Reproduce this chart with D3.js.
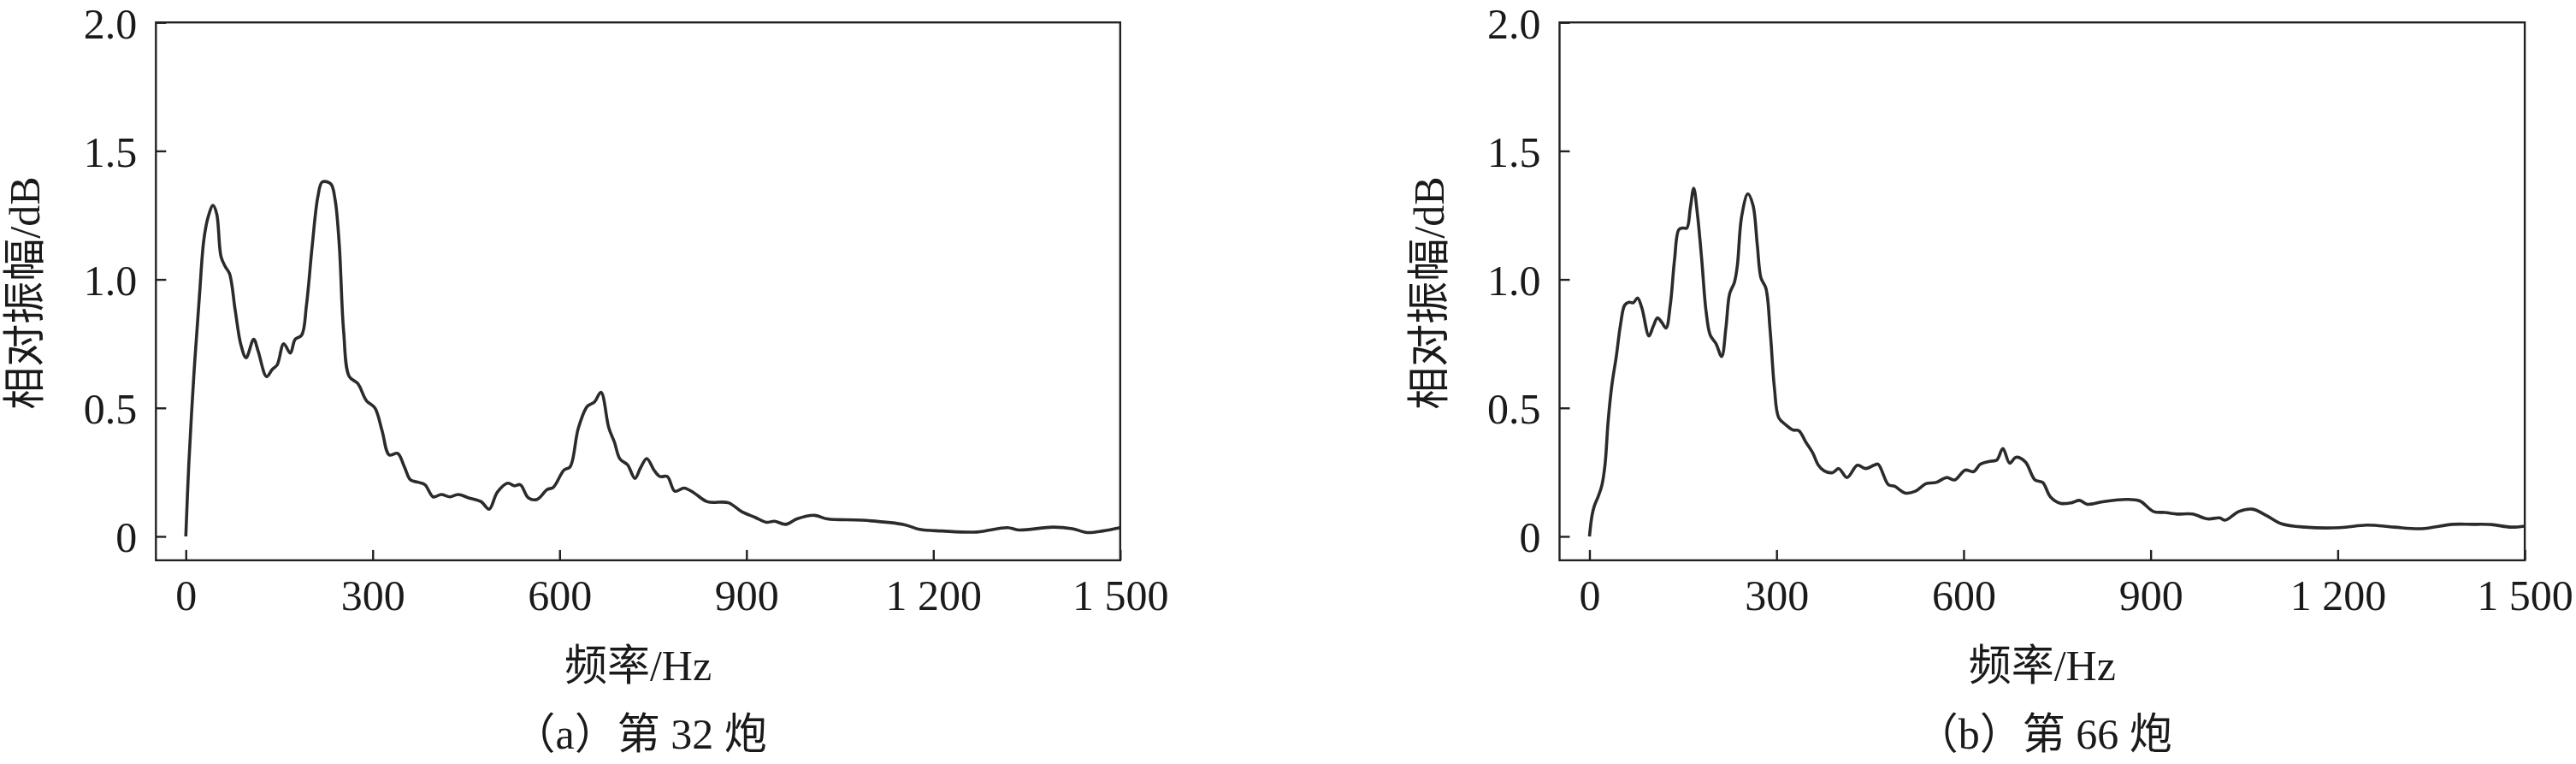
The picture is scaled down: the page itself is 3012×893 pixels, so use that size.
<!DOCTYPE html>
<html lang="zh">
<head>
<meta charset="UTF-8">
<title>相对振幅频谱</title>
<script src="https://cdnjs.cloudflare.com/ajax/libs/d3/7.9.0/d3.min.js"></script>
<style>
    body { margin: 0; background: #fff; }
    svg { display: block; }
    text { font-family: "Liberation Serif", "Noto Sans CJK SC", serif; fill: #1a1a1a; }
</style>
</head>
<body>
<svg id="chart" width="3012" height="893"></svg>
<script>
// tick values / labels
const xTicks = [0, 300, 600, 900, 1200, 1500];
const xTickLabels = ["0", "300", "600", "900", "1 200", "1 500"];
const yTicks = [0, 0.5, 1.0, 1.5, 2.0];
const yTickLabels = ["0", "0.5", "1.0", "1.5", "2.0"];

const xLabel = "频率/Hz";
const yLabel = "相对振幅/dB";
const captions = ["（a）第 32 炮", "（b）第 66 炮"];

// (a) shot 32 - frequency (Hz) and relative amplitude (dB)
const freqA = [0, 4.8, 13, 22, 29, 36, 43.7, 49.6, 56.5, 63.3, 70.2, 79.4, 88.5, 96.7, 109, 116,
    129.7, 138.8, 146.6, 157.2, 167.7, 175.5, 186, 193.7, 203, 212, 219, 232.7, 239.6, 246.4, 253.3,
    262.4, 276, 290, 303.5, 315, 326.5, 340, 351, 360.6, 374, 384, 397, 410, 424, 437, 454, 474, 487,
    500, 517, 527, 537, 550, 564, 580, 590, 607, 617, 630, 644.5, 656, 666.5, 679, 688, 697, 709, 721,
    730, 740, 751.6, 761, 773, 785, 800, 816, 837, 871, 892, 914, 932, 945, 963, 981, 1009, 1030, 1086,
    1153, 1178, 1214, 1270, 1319, 1337, 1392, 1423, 1447, 1472, 1500];
const ampA = [0, 0.28, 0.63, 0.94, 1.155, 1.244, 1.288, 1.255, 1.089, 1.05, 1.022, 0.878, 0.745, 0.695, 0.767, 0.722,
    0.622, 0.65, 0.667, 0.75, 0.713, 0.767, 0.783, 0.9, 1.133, 1.322, 1.379, 1.372, 1.311, 1.133, 0.8,
    0.622, 0.595, 0.528, 0.5, 0.412, 0.317, 0.323, 0.27, 0.22, 0.21, 0.201, 0.154, 0.163, 0.154, 0.163, 0.15, 0.135, 0.106,
    0.172, 0.207, 0.197, 0.201, 0.15, 0.144, 0.182, 0.191, 0.258, 0.271, 0.42, 0.506, 0.523, 0.561, 0.423, 0.367, 0.301, 0.279, 0.226,
    0.267, 0.303, 0.258, 0.233, 0.233, 0.176, 0.188, 0.169, 0.135, 0.131, 0.097, 0.074, 0.055, 0.059, 0.047, 0.068, 0.082, 0.068, 0.063,
    0.046, 0.027, 0.021, 0.017, 0.034, 0.025, 0.036, 0.030, 0.015, 0.021, 0.034];

// (b) shot 66
const freqB = [0, 4, 8, 14, 20, 25, 30, 36, 43, 49.7, 56.5, 63.4, 70.2, 77.1, 84, 95.4, 102.2, 109.1, 115.9, 122.8,
    129.6, 136.5, 143.4, 150.2, 156.2, 161.7, 167.2, 173.1, 180, 186.9, 193.7, 202.9, 212, 218.8, 224.8, 232.5,
    237.2, 244, 254.1, 262.3, 269.2, 275.1, 282.9, 289.8, 296.6, 303.5, 314.9, 326.4, 335.5, 347, 358.4, 366.6,
    376.5, 389.8, 399.8, 413.1, 429.7, 443, 456.3, 462.9, 479.5, 489.5, 506.1, 522.7, 539.4, 556, 572.6, 585.9,
    602.6, 615.9, 627, 642, 653.3, 663, 673.9, 684, 699, 714.4, 726.8, 739.2, 754.8, 773.5, 786, 798.4, 823.3,
    860.7, 882.6, 904.4, 923, 941.7, 966.6, 991.6, 1010.3, 1019.6, 1041.4, 1063.3, 1085.1, 1110, 1147.4, 1203.5,
    1247.1, 1290.6, 1334.2, 1384.1, 1415.3, 1446.4, 1477.6, 1500];
const ampB = [0, 0.08, 0.12, 0.155, 0.2, 0.28, 0.45, 0.59, 0.70, 0.822, 0.9, 0.911, 0.909, 0.928, 0.889, 0.78, 0.817, 0.85, 0.833, 0.811,
    0.9, 1.078, 1.194, 1.2, 1.2, 1.277, 1.355, 1.255, 1.078, 0.878, 0.783, 0.75, 0.7, 0.811, 0.944, 0.989,
    1.055, 1.244, 1.333, 1.288, 1.133, 1.005, 0.966, 0.8, 0.578, 0.462, 0.434, 0.414, 0.412, 0.367, 0.323, 0.279,
    0.255, 0.248, 0.264, 0.229, 0.277, 0.264, 0.277, 0.281, 0.201, 0.195, 0.169, 0.176, 0.205, 0.21, 0.229, 0.22,
    0.258, 0.252, 0.281, 0.292, 0.297, 0.342, 0.285, 0.308, 0.29, 0.22, 0.21, 0.154, 0.129, 0.131, 0.14, 0.125, 0.135,
    0.144, 0.138, 0.097, 0.093, 0.087, 0.087, 0.068, 0.072, 0.063, 0.097, 0.106, 0.082, 0.049, 0.036, 0.034,
    0.044, 0.036, 0.030, 0.047, 0.047, 0.046, 0.036, 0.040];

const panels = [
    { left: 182.3, right: 1309.8, freq: freqA, amp: ampA, caption: captions[0] },
    { left: 1823.5, right: 2952.1, freq: freqB, amp: ampB, caption: captions[1] }
];
const plotTop = 26.2, plotBottom = 654.9;
const fontSize = 50;

const svg = d3.select('#chart');
svg.append('rect').attr('width', 3012).attr('height', 893).attr('fill', '#fff');

panels.forEach(p => {
    const x = d3.scaleLinear().domain([-48, 1500]).range([p.left, p.right]);
    const y = d3.scaleLinear().domain([-0.093, 2.0]).range([plotBottom, plotTop]);
    const g = svg.append('g');

    // x axis, ticks pointing inward
    const xAxis = d3.axisBottom(x)
        .tickValues(xTicks)
        .tickFormat((d, i) => xTickLabels[i])
        .tickSize(-12)
        .tickPadding(23);
    const gx = g.append('g').attr('transform', `translate(0,${plotBottom})`).call(xAxis);

    const yAxis = d3.axisLeft(y)
        .tickValues(yTicks)
        .tickFormat((d, i) => yTickLabels[i])
        .tickSize(-12)
        .tickPadding(22);
    const gy = g.append('g').attr('transform', `translate(${p.left},0)`).call(yAxis);
    gy.selectAll('text').attr('dy', '0.36em');

    [gx, gy].forEach(a => {
        a.select('.domain').remove();
        a.selectAll('line').attr('stroke', '#222').attr('stroke-width', 2.4);
        a.selectAll('text')
            .attr('font-size', fontSize)
            .attr('font-family', '"Liberation Serif", serif')
            .attr('fill', '#1a1a1a');
    });

    // frame
    g.append('rect')
        .attr('x', p.left).attr('y', plotTop)
        .attr('width', p.right - p.left).attr('height', plotBottom - plotTop)
        .attr('fill', 'none').attr('stroke', '#222').attr('stroke-width', 2.4);

    // curve
    const pts = p.freq.map((f, i) => [f, p.amp[i]]);
    const line = d3.line()
        .x(d => x(d[0]))
        .y(d => y(d[1]))
        .curve(d3.curveCatmullRom.alpha(0.5));
    g.append('path')
        .datum(pts)
        .attr('d', line)
        .attr('fill', 'none')
        .attr('stroke', '#2b2b2b')
        .attr('stroke-width', 3.6)
        .attr('stroke-linejoin', 'round');

    const cx = (p.left + p.right) / 2;

    g.append('text')
        .attr('transform', `translate(${p.left - 136},${(plotTop + plotBottom) / 2 + 2}) rotate(-90)`)
        .attr('text-anchor', 'middle')
        .attr('font-size', fontSize)
        .text(yLabel);

    g.append('text')
        .attr('x', cx).attr('y', 795)
        .attr('text-anchor', 'middle')
        .attr('font-size', fontSize)
        .text(xLabel);

    g.append('text')
        .attr('x', cx + 2).attr('y', 875)
        .attr('text-anchor', 'middle')
        .attr('font-size', fontSize)
        .text(p.caption);
});
</script>
</body>
</html>
